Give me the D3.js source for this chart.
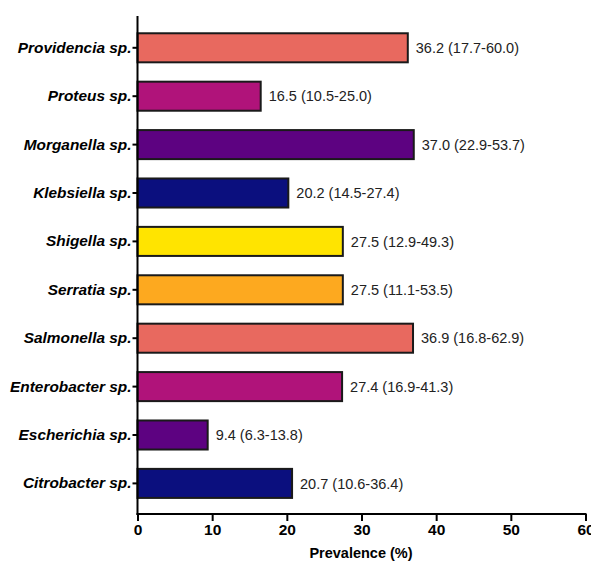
<!DOCTYPE html>
<html>
<head>
<meta charset="utf-8">
<script src="https://cdn.jsdelivr.net/npm/d3@7"></script>
<style>
  html, body { margin: 0; padding: 0; background: #fff; }
  svg { display: block; font-family: "Liberation Sans", Arial, Helvetica, sans-serif; }
</style>
</head>
<body>
<svg id="chart" width="591" height="563"></svg>
<script>
// Genus names, top to bottom
const genera = [
  "Providencia sp.", "Proteus sp.", "Morganella sp.", "Klebsiella sp.",
  "Shigella sp.", "Serratia sp.", "Salmonella sp.", "Enterobacter sp.",
  "Escherichia sp.", "Citrobacter sp."
];
// Pooled prevalence (%) with 95% CI bounds
const prevalence = [36.2, 16.5, 37.0, 20.2, 27.5, 27.5, 36.9, 27.4, 9.4, 20.7];
const ciLow  = [17.7, 10.5, 22.9, 14.5, 12.9, 11.1, 16.8, 16.9, 6.3, 10.6];
const ciHigh = [60.0, 25.0, 53.7, 27.4, 49.3, 53.5, 62.9, 41.3, 13.8, 36.4];
const barColors = [
  "#E8695F", "#B0137A", "#5D0281", "#0B0F7E", "#FFE400",
  "#FDA91F", "#E8695F", "#B0137A", "#5D0281", "#0B0F7E"
];
const xTicks = [0, 10, 20, 30, 40, 50, 60];
const xTitle = "Prevalence (%)";

const rows = genera.map((g, i) => ({
  genus: g, value: prevalence[i], lo: ciLow[i], hi: ciHigh[i], color: barColors[i]
}));

const svg = d3.select("#chart");
const left = 137.5, right = 585.5, axisTop = 16, axisBottom = 514;

const x = d3.scaleLinear().domain([0, 60]).range([left, right]);
const y = d3.scaleBand().domain(genera).range([23.6, 507.6]).paddingInner(0.4).paddingOuter(0.2);

const fmt = d3.format(".1f");

// Bars
svg.append("g").selectAll("rect").data(rows).join("rect")
  .attr("x", x(0))
  .attr("y", d => y(d.genus))
  .attr("width", d => x(d.value) - x(0))
  .attr("height", y.bandwidth())
  .attr("fill", d => d.color)
  .attr("stroke", "#1a1a1a")
  .attr("stroke-width", 2);

// Value labels with confidence intervals
svg.append("g").selectAll("text").data(rows).join("text")
  .attr("x", d => x(d.value) + 8)
  .attr("y", d => y(d.genus) + y.bandwidth() / 2)
  .attr("dy", "0.36em")
  .attr("font-size", 14.5)
  .attr("fill", "#222")
  .text(d => `${fmt(d.value)} (${fmt(d.lo)}-${fmt(d.hi)})`);

// Y axis
const yAxis = svg.append("g")
  .attr("transform", `translate(${left},0)`)
  .call(d3.axisLeft(y).tickSize(5).tickPadding(1));
yAxis.select(".domain").remove();
yAxis.append("line")
  .attr("x1", 0).attr("x2", 0)
  .attr("y1", axisTop).attr("y2", axisBottom + 1)
  .attr("stroke", "#000").attr("stroke-width", 2);
yAxis.selectAll(".tick line").attr("stroke", "#000").attr("stroke-width", 2);
yAxis.selectAll(".tick text")
  .attr("font-size", 15.4)
  .attr("font-weight", "bold")
  .attr("font-style", "italic")
  .attr("fill", "#000");

// X axis
const xAxis = svg.append("g")
  .attr("transform", `translate(0,${axisBottom})`)
  .call(d3.axisBottom(x).tickValues(xTicks).tickSize(7).tickPadding(3).tickFormat(d3.format("d")));
xAxis.select(".domain").remove();
xAxis.append("line")
  .attr("x1", left - 1).attr("x2", right + 1)
  .attr("y1", 0).attr("y2", 0)
  .attr("stroke", "#000").attr("stroke-width", 2);
xAxis.selectAll(".tick line").attr("stroke", "#000").attr("stroke-width", 2);
xAxis.selectAll(".tick text")
  .attr("font-size", 15.5)
  .attr("font-weight", "bold")
  .attr("fill", "#000");

// X axis title
svg.append("text")
  .attr("x", (left + right) / 2 - 0.5)
  .attr("y", 558)
  .attr("text-anchor", "middle")
  .attr("font-size", 14.5)
  .attr("font-weight", "bold")
  .attr("fill", "#000")
  .text(xTitle);
</script>
</body>
</html>
